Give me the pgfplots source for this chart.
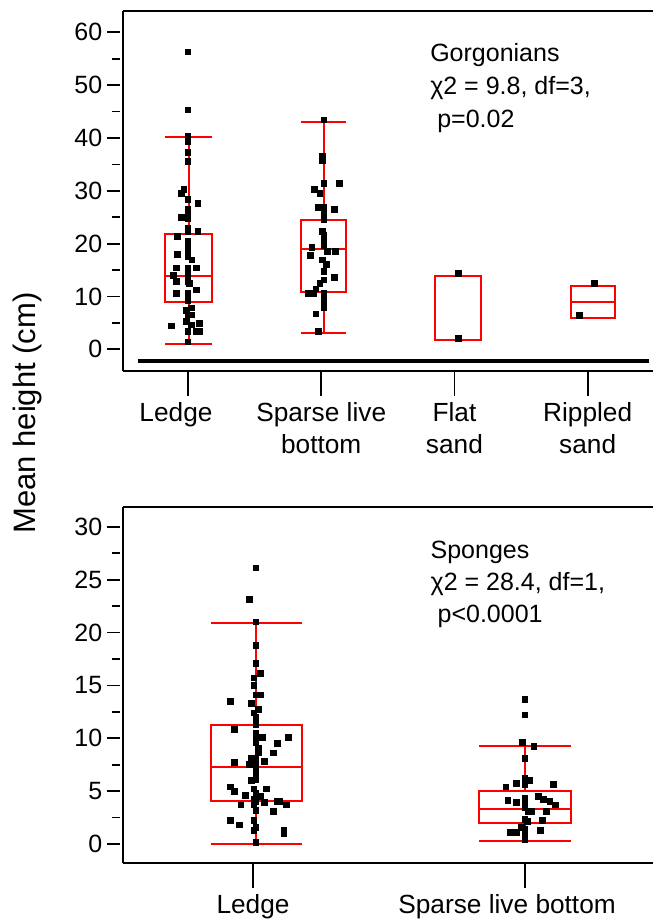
\documentclass[border=0pt]{standalone}
\usepackage{pgfplots}
\pgfplotsset{compat=1.18}
\usepgfplotslibrary{statistics}
\usepackage{fontspec}
\setmainfont{Liberation Sans}

\pgfplotstableread{
x y
0 56.3
0 45.3
0 40.3
0 39.9
0 39.3
0 37.3
0 35.5
-0.03 30.2
-0.048 29.5
0 28.3
0.076 27.6
0 26.4
0 25.7
-0.048 25.0
0 24.8
0 22.9
0 22.3
0.076 22.3
-0.076 21.4
0 20.4
0 19.4
0 18.5
0 17.5
-0.076 18.0
0.03 16.9
-0.088 15.4
0.064 15.4
0 15.3
0 14.7
-0.106 13.9
0 13.8
0 12.9
-0.088 12.9
0.013 12.4
0.064 11.2
0 10.6
-0.088 10.5
0 10.0
0 9.3
0.025 7.8
-0.013 7.4
0 6.5
0.025 6.5
-0.013 5.2
0.025 4.6
-0.121 4.4
0.089 4.9
0 3.3
0.064 3.3
0.089 3.3
0 1.4
}\gorgledge

\pgfplotstableread{
x y
1.02 43.4
1.01 36.5
1.01 35.8
1.02 31.4
1.14 31.4
0.95 30.2
0.99 29.5
0.98 26.8
1.02 26.8
1.10 26.4
1.02 25.7
1.02 24.5
1.01 22.3
1.02 21.6
1.02 20.7
1.02 19.7
0.93 19.2
1.045 18.5
1.11 18.5
0.92 17.7
1.01 16.9
1.04 16.1
1.02 14.7
1.10 13.6
1.02 13.1
0.99 12.4
0.96 11.4
0.90 10.6
0.94 10.6
1.02 10.6
1.02 9.7
1.02 8.7
1.02 7.8
0.96 6.7
0.98 3.3
2.03 14.3
2.03 2.1
3.05 12.4
2.94 6.4
}\gorgother

\pgfplotstableread{
x y
0.011 26.1
-0.012 23.1
0.011 21.0
0.011 18.8
0.011 17.1
0.027 16.1
0.004 15.7
0.004 15.0
0.011 14.1
0.027 14.1
-0.083 13.5
-0.005 13.3
0.02 12.7
0.004 12.4
0.011 12.0
0.011 11.6
0.011 11.3
-0.067 10.8
0.011 10.5
0.011 10.0
0.011 9.6
0.035 10.1
0.131 10.1
0.091 9.5
0.02 9.0
0.02 8.6
0.075 8.6
-0.005 8.1
0.011 8.1
0.043 7.8
-0.067 7.7
-0.012 7.5
0.011 7.5
0.011 7.0
0.011 6.5
0.011 6.1
-0.005 6.0
-0.083 5.4
-0.067 5.0
0.050 5.2
0.004 5.2
-0.028 4.6
0.011 4.8
0.027 4.5
0.004 4.2
0.011 4.0
-0.044 3.7
0.043 3.9
0.090 4.0
0.098 4.0
0.122 3.7
0.004 3.7
0.011 3.2
0.075 3.1
-0.083 2.2
-0.051 1.8
0.004 2.2
0.011 1.6
0.004 1.3
0.114 1.3
0.114 1.0
0.011 0.16
}\spongeledge

\pgfplotstableread{
x y
1.0 13.7
1.0 12.2
0.991 9.6
1.033 9.2
1.0 8.1
1.0 6.2
1.018 6.0
0.93 5.4
0.969 5.7
1.0 5.6
1.104 5.6
1.048 4.5
0.937 4.1
0.969 3.9
1.0 4.3
1.0 3.8
1.0 3.4
1.012 3.1
1.067 4.2
1.092 4.0
1.113 3.7
1.08 3.1
1.025 3.1
1.0 2.3
1.009 2.1
1.065 2.2
0.988 1.6
1.0 1.4
1.058 1.3
0.945 1.1
0.969 1.1
1.0 0.85
1.0 0.44
}\spongesparse

\pgfplotsset{
  panel/.style={
    scale only axis, width=212.1pt,
    anchor=north west,
    axis x line*=box, axis y line*=left,
    xtick pos=left, ytick pos=left,
    tick align=outside,
    axis line style={line width=0.7pt},
    tick style={black, line width=0.7pt},
    major tick length=5.2pt, minor tick length=3.1pt,
    minor y tick num=1,
    y tick style={xshift=-1pt},
    x tick style={/pgfplots/major tick length=10pt},
    yticklabel style={font=\fontsize{10}{11}\selectfont, inner xsep=2.8pt},
    xticklabel style={font=\fontsize{10.5}{12.8}\selectfont, align=center, inner ysep=7.2pt},
    /pgf/number format/assume math mode=true,
    boxplot/draw direction=y,
    clip=false,
  },
  rbox/.style={red, line width=0.8pt, mark=none, solid},
  pts/.style={only marks, mark=square*, mark size=1.15pt, black},
}

\begin{document}
\begin{tikzpicture}
\path[use as bounding box] (0,0) rectangle (261.2pt,368.4pt);

\begin{axis}[panel,
  at={(49.08pt,364.12pt)}, height=144.1pt,
  xmin=-0.49, xmax=3.49, ymin=-4.1, ymax=64.1,
  xtick={0,1,2,3},
  xticklabels={\hspace*{-9.6pt}Ledge, Sparse live\\bottom, Flat\\sand, Rippled\\sand},
  ytick={0,10,...,60},
]
\addplot[black, line width=1.6pt] coordinates {(-0.378,-2.3) (3.46,-2.3)};
\addplot[rbox, boxplot prepared={lower whisker=1.06, lower quartile=9.0, median=13.9,
  upper quartile=21.8, upper whisker=40.1, draw position=0.007,
  box extend=0.353, whisker extend=0.353}] coordinates {};
\addplot[rbox, boxplot prepared={lower whisker=3.0, lower quartile=10.8, median=18.9,
  upper quartile=24.5, upper whisker=43.1, draw position=1.02,
  box extend=0.338, whisker extend=0.338}] coordinates {};
\addplot[rbox, boxplot prepared={lower whisker=1.7, lower quartile=1.7, median=1.7,
  upper quartile=13.9, upper whisker=13.9, draw position=2.03,
  box extend=0.345, whisker extend=0.345}] coordinates {};
\addplot[rbox, boxplot prepared={lower whisker=5.9, lower quartile=5.9, median=9.0,
  upper quartile=12.0, upper whisker=12.0, draw position=3.04,
  box extend=0.33, whisker extend=0.33}] coordinates {};
\addplot[pts] table {\gorgledge};
\addplot[pts] table {\gorgother};
\node[anchor=north west, inner sep=0pt, align=left, font=\fontsize{10}{13.2}\selectfont]
  at (axis cs:1.815,58.0) {Gorgonians\\χ2 = 9.8, df=3,\\\hspace*{0.28em}p=0.02};
\end{axis}

\begin{axis}[panel,
  at={(49.08pt,165.72pt)}, height=142.64pt,
  xmin=-0.479, xmax=1.47, ymin=-1.82, ymax=31.9,
  xtick={0,1},
  xticklabels={Ledge, \hspace*{-14.4pt}Sparse live bottom},
  ytick={0,5,...,30},
]
\addplot[rbox, boxplot prepared={lower whisker=0, lower quartile=4.07, median=7.28,
  upper quartile=11.25, upper whisker=20.9, draw position=0.012,
  box extend=0.335, whisker extend=0.335}] coordinates {};
\addplot[rbox, boxplot prepared={lower whisker=0.3, lower quartile=2.0, median=3.3,
  upper quartile=5.0, upper whisker=9.3, draw position=1.0,
  box extend=0.337, whisker extend=0.337}] coordinates {};
\addplot[pts] table {\spongeledge};
\addplot[pts] table {\spongesparse};
\node[anchor=north west, inner sep=0pt, align=left, font=\fontsize{10}{12.8}\selectfont]
  at (axis cs:0.651,28.7) {Sponges\\χ2 = 28.4, df=1,\\\hspace*{0.28em}p<0.0001};
\end{axis}

\node[rotate=90, font=\fontsize{12.4}{14}\selectfont] at (10.8pt,203.2pt) {Mean height (cm)};
\end{tikzpicture}
\end{document}
